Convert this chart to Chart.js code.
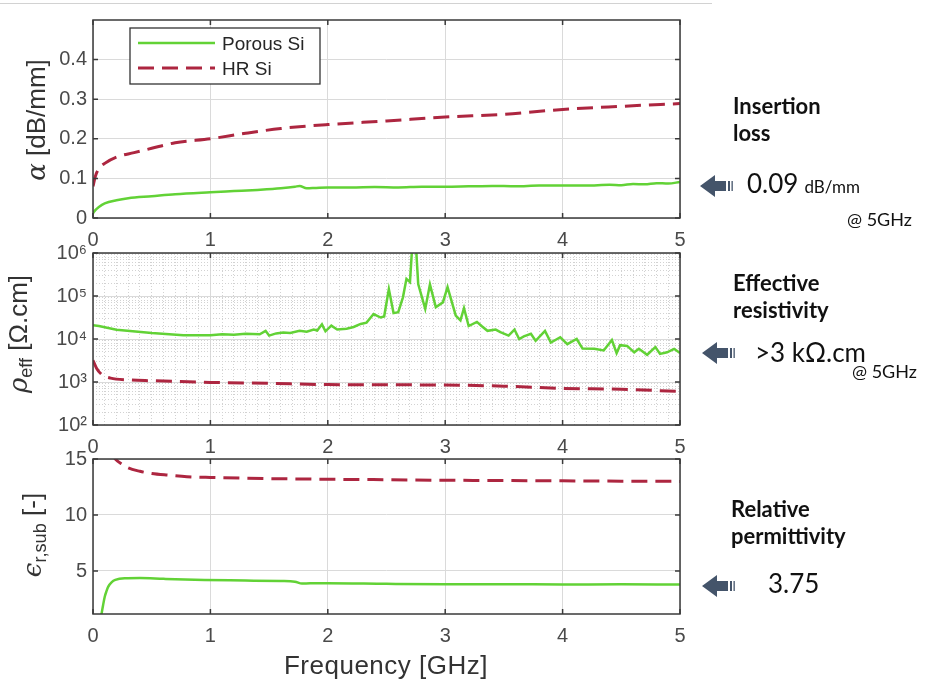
<!DOCTYPE html>
<html>
<head>
<meta charset="utf-8">
<script src="https://cdn.jsdelivr.net/npm/chart.js@4"></script>
<style>
body { margin: 0; background: #fff; width: 933px; height: 684px; position: relative; overflow: hidden; font-family: "Liberation Sans", Arial, sans-serif; }
canvas { position: absolute; left: 0; top: 0; }
.sep { position: absolute; left: 0; top: 3px; width: 712px; height: 1px; background: #d2d2d2; }
.ylab { position: absolute; transform: translate(-50%, -50%) rotate(-90deg); white-space: nowrap; font-size: 26px; color: #333; line-height: 30px; }
.ylab i { font-family: "DejaVu Serif", serif; }
.ylab sub { font-size: 0.7em; vertical-align: -0.3em; }
.xlab { position: absolute; left: 386px; top: 665px; transform: translate(-50%, -50%); font-size: 26px; color: #333; letter-spacing: 0.5px; white-space: nowrap; }
.note { position: absolute; font-family: Lato, "Open Sans", sans-serif; color: #111; white-space: nowrap; }
.head { font-weight: 700; font-size: 22px; line-height: 27px; }
.val { font-size: 26px; line-height: 30px; }
.val span { font-size: 17px; margin-left: 6px; }
.at { font-size: 18px; line-height: 22px; }
.arrow { position: absolute; }
</style>
</head>
<body>
<div class="sep"></div>
<canvas id="c1" width="933" height="684"></canvas>
<canvas id="c2" width="933" height="684"></canvas>
<canvas id="c3" width="933" height="684"></canvas>

<div class="ylab" style="left:36px; top:120px;"><i>α</i> [dB/mm]</div>
<div class="ylab" style="left:22px; top:334px;"><i>ρ</i><sub>eff</sub> [Ω.cm]</div>
<div class="ylab" style="left:36px; top:535px;"><i>ϵ</i><sub>r,sub</sub> [-]</div>
<div class="xlab">Frequency [GHz]</div>

<div class="note head" style="left:733px; top:92px;">Insertion<br>loss</div>
<div class="note val" style="left:747px; top:168px;">0.09<span>dB/mm</span></div>
<div class="note at" style="left:847px; top:208px;">@ 5GHz</div>

<div class="note head" style="left:733px; top:269px;">Effective<br>resistivity</div>
<div class="note val" style="left:755px; top:337px;">&gt;3 kΩ.cm</div>
<div class="note at" style="left:852px; top:360px;">@ 5GHz</div>

<div class="note head" style="left:731px; top:495px;">Relative<br>permittivity</div>
<div class="note val" style="left:768px; top:568px;">3.75</div>

<svg class="arrow" style="left:700px; top:175px;" width="34" height="22"><polygon points="0,11 15,0 15,6 26,6 26,16 15,16 15,22" fill="#44546a"/><rect x="28" y="6" width="2" height="10" fill="#44546a"/><rect x="31.5" y="6" width="1.3" height="10" fill="#44546a"/></svg>
<svg class="arrow" style="left:702px; top:342px;" width="34" height="22"><polygon points="0,11 15,0 15,6 26,6 26,16 15,16 15,22" fill="#44546a"/><rect x="28" y="6" width="2" height="10" fill="#44546a"/><rect x="31.5" y="6" width="1.3" height="10" fill="#44546a"/></svg>
<svg class="arrow" style="left:702px; top:575px;" width="34" height="22"><polygon points="0,11 15,0 15,6 26,6 26,16 15,16 15,22" fill="#44546a"/><rect x="28" y="6" width="2" height="10" fill="#44546a"/><rect x="31.5" y="6" width="1.3" height="10" fill="#44546a"/></svg>

<script>
// tick labels
const freqTicks = [0, 1, 2, 3, 4, 5];
const alphaTicks = [0, 0.1, 0.2, 0.3, 0.4];
const rhoTicks = [1e2, 1e3, 1e4, 1e5, 1e6];
const epsTicks = [5, 10, 15];
const seriesNames = ['Porous Si', 'HR Si'];

// attenuation [dB/mm] vs frequency [GHz]
const alphaPorousF = [0, 0.02, 0.05, 0.1, 0.2, 0.3, 0.5, 0.7, 1.0, 1.2, 1.4, 1.6, 1.72, 1.76, 1.82, 1.9, 2.0, 2.2, 2.4, 2.6, 2.8, 3.0, 3.2, 3.4, 3.6, 3.8, 4.0, 4.2, 4.4, 4.5, 4.6, 4.7, 4.8, 4.9, 5.0];
const alphaPorousV = [0.012, 0.02, 0.028, 0.037, 0.045, 0.05, 0.055, 0.06, 0.065, 0.068, 0.071, 0.075, 0.079, 0.081, 0.075, 0.076, 0.077, 0.077, 0.078, 0.077, 0.079, 0.079, 0.080, 0.081, 0.080, 0.082, 0.082, 0.082, 0.084, 0.083, 0.086, 0.085, 0.088, 0.087, 0.091];
const alphaHrF = [0, 0.02, 0.05, 0.1, 0.2, 0.35, 0.5, 0.7, 1.0, 1.3, 1.6, 2.0, 2.5, 3.0, 3.5, 4.0, 4.5, 5.0];
const alphaHrV = [0.08, 0.105, 0.125, 0.138, 0.154, 0.165, 0.176, 0.19, 0.2, 0.214, 0.226, 0.236, 0.245, 0.255, 0.262, 0.274, 0.282, 0.289];

// effective resistivity [ohm.cm]
const rhoPorousF = [0, 0.05, 0.2, 0.5, 0.77, 1.0, 1.1, 1.2, 1.3, 1.42, 1.47, 1.5, 1.56, 1.62, 1.68, 1.76, 1.82, 1.88, 1.91, 1.95, 1.98, 2.03, 2.08, 2.16, 2.22, 2.28, 2.33, 2.39, 2.45, 2.48, 2.52, 2.56, 2.6, 2.64, 2.67, 2.7, 2.72, 2.75, 2.77, 2.83, 2.87, 2.92, 2.98, 3.02, 3.09, 3.13, 3.16, 3.2, 3.27, 3.31, 3.36, 3.43, 3.47, 3.54, 3.59, 3.63, 3.67, 3.73, 3.77, 3.85, 3.9, 3.98, 4.04, 4.12, 4.17, 4.27, 4.35, 4.42, 4.46, 4.49, 4.55, 4.61, 4.65, 4.72, 4.79, 4.83, 4.89, 4.95, 5.0];
const rhoPorousV = [21000, 20000, 16500, 13800, 12300, 12300, 12900, 12600, 13200, 12900, 15500, 12000, 13500, 14100, 13800, 15500, 14800, 16600, 15800, 21900, 15100, 20400, 16600, 17400, 19000, 22400, 24000, 38000, 31600, 33500, 145000, 40000, 42000, 93000, 250000, 210000, 1600000, 1600000, 190000, 50000, 185000, 55000, 71000, 160000, 35000, 27000, 52000, 20000, 25000, 20000, 15500, 16600, 14500, 12000, 16600, 10000, 11500, 13200, 9100, 15500, 8300, 11000, 7600, 10000, 6000, 5900, 5400, 9500, 4700, 7200, 6900, 4900, 5900, 4300, 6500, 4500, 4900, 5900, 4700];
const rhoHrF = [0, 0.03, 0.08, 0.15, 0.3, 0.5, 1.0, 1.5, 2.0, 2.5, 3.0, 3.5, 4.0, 4.5, 5.0];
const rhoHrV = [3200, 2100, 1450, 1230, 1120, 1070, 980, 930, 870, 860, 850, 800, 710, 680, 600];

// relative permittivity of the substrate
const epsPorousF = [0.07, 0.085, 0.1, 0.115, 0.13, 0.16, 0.19, 0.27, 0.4, 0.6, 0.95, 1.3, 1.6, 1.72, 1.78, 1.85, 2.0, 2.5, 3.0, 3.5, 4.0, 4.5, 5.0];
const epsPorousV = [1.0, 1.9, 2.7, 3.2, 3.6, 4.0, 4.2, 4.35, 4.37, 4.3, 4.2, 4.15, 4.1, 4.05, 3.88, 3.9, 3.9, 3.85, 3.82, 3.82, 3.8, 3.81, 3.8];
const epsHrF = [0.15, 0.19, 0.25, 0.3, 0.4, 0.5, 0.65, 0.8, 1.0, 1.5, 2.0, 2.5, 3.0, 3.5, 4.0, 4.5, 5.0];
const epsHrV = [15.6, 15.0, 14.5, 14.2, 13.9, 13.7, 13.55, 13.42, 13.35, 13.25, 13.19, 13.15, 13.1, 13.08, 13.05, 13.02, 13.0];

const GREEN = '#62d236';
const RED = '#ad2640';
const pts = (f, v) => f.map((x, i) => ({ x: x, y: v[i] }));

function porous(f, v, smooth) {
  return { label: seriesNames[0], data: pts(f, v), borderColor: GREEN, borderWidth: 2.5,
    cubicInterpolationMode: smooth ? 'monotone' : 'default', clip: 0 };
}
function hr(f, v) {
  return { label: seriesNames[1], data: pts(f, v), borderColor: RED, borderWidth: 3,
    borderDash: [16, 8], cubicInterpolationMode: 'monotone', clip: 0 };
}

// frame and inward tick marks like the matlab axes box
const boxPlugin = {
  id: 'box',
  afterDraw(chart) {
    const { ctx, chartArea: a, scales } = chart;
    ctx.save();
    ctx.strokeStyle = '#3a3a3a';
    ctx.lineWidth = 1.5;
    ctx.beginPath();
    scales.x.ticks.forEach(t => {
      if (!t.major) return;
      const px = scales.x.getPixelForValue(t.value);
      ctx.moveTo(px, a.top); ctx.lineTo(px, a.top + 5);
      ctx.moveTo(px, a.bottom); ctx.lineTo(px, a.bottom - 5);
    });
    scales.y.ticks.forEach(t => {
      if (!t.major) return;
      const py = scales.y.getPixelForValue(t.value);
      ctx.moveTo(a.left, py); ctx.lineTo(a.left + 5, py);
      ctx.moveTo(a.right, py); ctx.lineTo(a.right - 5, py);
    });
    ctx.stroke();
    ctx.strokeRect(a.left, a.top, a.right - a.left, a.bottom - a.top);
    ctx.restore();
  }
};

// boxed legend in the upper left of the first axes
const legendPlugin = {
  id: 'boxLegend',
  afterDraw(chart) {
    const ctx = chart.ctx;
    const x = 130, y = 28, w = 190, h = 56;
    ctx.save();
    ctx.fillStyle = '#fff';
    ctx.fillRect(x, y, w, h);
    ctx.strokeStyle = '#333';
    ctx.lineWidth = 1.3;
    ctx.strokeRect(x, y, w, h);
    chart.data.datasets.forEach((ds, i) => {
      const ly = y + 15 + i * 25;
      ctx.strokeStyle = ds.borderColor;
      ctx.lineWidth = ds.borderWidth;
      ctx.setLineDash(ds.borderDash || []);
      ctx.beginPath();
      ctx.moveTo(x + 8, ly);
      ctx.lineTo(x + 85, ly);
      ctx.stroke();
      ctx.setLineDash([]);
      ctx.fillStyle = '#262626';
      ctx.font = '19px "Liberation Sans", Arial';
      ctx.textBaseline = 'middle';
      ctx.fillText(ds.label, x + 92, ly + 2);
    });
    ctx.restore();
  }
};

function xTickList(minor) {
  const list = [];
  freqTicks.forEach((f, i) => {
    list.push({ value: f, major: true });
    if (minor && i < freqTicks.length - 1) {
      for (let k = 1; k < 10; k++) list.push({ value: f + k / 10, major: false });
    }
  });
  return list;
}

const gridColor = c => (c.tick && !c.tick.major) ? '#d2d2d2' : '#dadada';
const gridDash = c => (c.tick && !c.tick.major) ? [1, 2] : [];
const tickFont = { family: '"Liberation Sans", Arial', size: 20 };

function plot(id, area, datasets, yOpts, minor, extra) {
  const yW = 60, xH = 34;
  const y = Object.assign({
    afterFit: s => { s.width = yW; },
    border: { display: false, dash: gridDash },
    grid: { color: gridColor, drawTicks: false },
  }, yOpts);
  y.ticks = Object.assign({ autoSkip: false, padding: 6, color: '#4a4a4a', font: tickFont }, yOpts.ticks);
  return new Chart(document.getElementById(id), {
    type: 'line',
    data: { datasets: datasets },
    options: {
      responsive: false,
      animation: false,
      devicePixelRatio: 1,
      layout: { padding: { left: area.left - yW, right: 933 - area.right, top: area.top, bottom: 684 - area.bottom - xH } },
      plugins: { legend: { display: false }, tooltip: { enabled: false } },
      elements: { point: { radius: 0 }, line: { tension: 0 } },
      scales: {
        x: {
          type: 'linear', min: 0, max: 5,
          afterFit: s => { s.height = xH; },
          afterBuildTicks: s => { s.ticks = xTickList(minor); },
          border: { display: false, dash: gridDash },
          grid: { color: gridColor, drawTicks: false },
          ticks: { autoSkip: false, maxRotation: 0, padding: 10, color: '#4a4a4a', font: tickFont,
            callback: (v, i, t) => t[i].major ? String(v) : '' }
        },
        y: y
      }
    },
    plugins: [boxPlugin].concat(extra || [])
  });
}

const SUP = '⁰¹²³⁴⁵⁶⁷⁸⁹';

plot('c1', { left: 93, right: 680, top: 20, bottom: 218 },
  [porous(alphaPorousF, alphaPorousV, true), hr(alphaHrF, alphaHrV)],
  { type: 'linear', min: 0, max: 0.5,
    afterBuildTicks: s => { s.ticks = alphaTicks.map(v => ({ value: v, major: true })); },
    ticks: { callback: v => String(v) } },
  false, [legendPlugin]);

plot('c2', { left: 93, right: 680, top: 253, bottom: 425 },
  [porous(rhoPorousF, rhoPorousV, false), hr(rhoHrF, rhoHrV)],
  { type: 'logarithmic', min: rhoTicks[0], max: rhoTicks[rhoTicks.length - 1],
    afterBuildTicks: s => {
      const list = [];
      rhoTicks.forEach((d, i) => {
        list.push({ value: d, major: true });
        if (i < rhoTicks.length - 1) for (let m = 2; m < 10; m++) list.push({ value: m * d, major: false });
      });
      s.ticks = list;
    },
    ticks: { callback: (v, i, t) => t[i].major ? '10' + SUP[Math.round(Math.log10(v))] : '' } },
  true);

plot('c3', { left: 93, right: 680, top: 459, bottom: 614 },
  [porous(epsPorousF, epsPorousV, true), hr(epsHrF, epsHrV)],
  { type: 'linear', min: 1.16, max: 15,
    afterBuildTicks: s => { s.ticks = epsTicks.map(v => ({ value: v, major: true })); },
    ticks: { callback: v => String(v) } },
  false);
</script>
</body>
</html>
